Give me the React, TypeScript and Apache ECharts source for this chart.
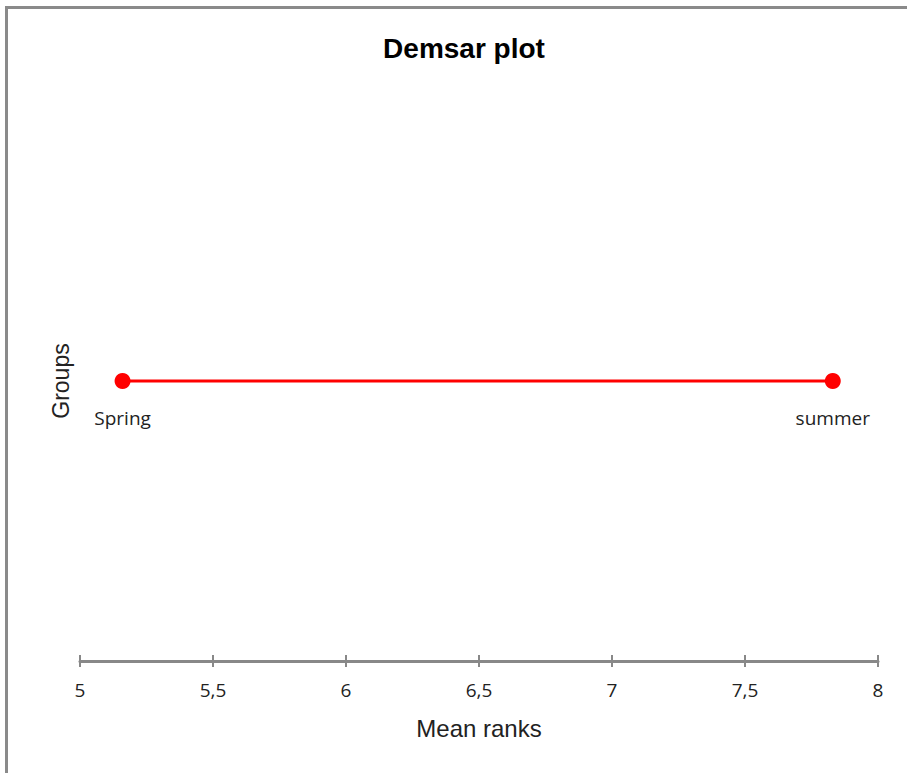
import React, { useEffect, useRef } from "react";
import * as echarts from "echarts";

const groupNames = ["Spring", "summer"];
const meanRanks = [5.16, 7.83];
const groupLevel = [0.5, 0.5];
const xTicks = [5, 5.5, 6, 6.5, 7, 7.5, 8];

export default function App() {
  const ref = useRef<HTMLDivElement>(null);
  useEffect(() => {
    document.body.style.margin = "0";
    const chart = echarts.init(ref.current!, undefined, { renderer: "svg" });
    const data = meanRanks.map((v, i) => ({ value: [v, groupLevel[i]], name: groupNames[i] }));
    const xAxisBase = {
      type: "value" as const,
      min: xTicks[0],
      max: xTicks[xTicks.length - 1],
      interval: 0.5,
      position: "bottom" as const,
      splitLine: { show: false },
    };
    chart.setOption({
      animation: false,
      backgroundColor: "#fff",
      grid: { left: 80, right: 29, top: 101, bottom: 112, containLabel: false },
      graphic: [
        {
          type: "rect",
          shape: { x: 6.5, y: 7.5, width: 1000, height: 1000 },
          style: { fill: "none", stroke: "#8a8a8a", lineWidth: 3 },
          silent: true,
        },
        {
          type: "text",
          x: 464,
          y: 48,
          style: {
            text: "Demsar plot",
            font: "bold 28px 'Liberation Sans', Arial, sans-serif",
            fill: "#000",
            align: "center",
            verticalAlign: "middle",
          },
        },
        {
          type: "text",
          x: 61,
          y: 381,
          rotation: Math.PI / 2,
          style: {
            text: "Groups",
            font: "23px 'Liberation Sans', Arial, sans-serif",
            fill: "#222",
            align: "center",
            verticalAlign: "middle",
          },
        },
      ],
      xAxis: [
        {
          ...xAxisBase,
          name: "Mean ranks",
          nameLocation: "middle",
          nameGap: 55,
          nameTextStyle: { fontFamily: "'Liberation Sans', Arial, sans-serif", fontSize: 24, color: "#222" },
          axisLine: { show: true, lineStyle: { color: "#888", width: 3 } },
          axisTick: { show: true, length: 6, lineStyle: { color: "#888", width: 2 } },
          axisLabel: {
            margin: 19,
            fontFamily: "'Open Sans', sans-serif",
            fontSize: 19,
            color: "#222",
            formatter: (v: number) => String(v).replace(".", ","),
          },
        },
        {
          ...xAxisBase,
          axisLine: { show: false },
          axisTick: { show: true, inside: true, length: 6, lineStyle: { color: "#888", width: 2 } },
          axisLabel: { show: false },
        },
      ],
      yAxis: {
        type: "value",
        min: 0,
        max: 1,
        show: false,
      },
      series: [
        {
          type: "line",
          xAxisIndex: 0,
          data,
          symbol: "circle",
          symbolSize: 16,
          itemStyle: { color: "#ff0000" },
          lineStyle: { color: "#ff0000", width: 3 },
          label: {
            show: true,
            position: "bottom",
            distance: 19,
            formatter: (p: any) => p.name,
            fontFamily: "'Open Sans', sans-serif",
            fontSize: 19,
            color: "#222",
          },
        },
      ],
    });
    return () => chart.dispose();
  }, []);
  return <div ref={ref} style={{ width: 907, height: 773 }} />;
}
